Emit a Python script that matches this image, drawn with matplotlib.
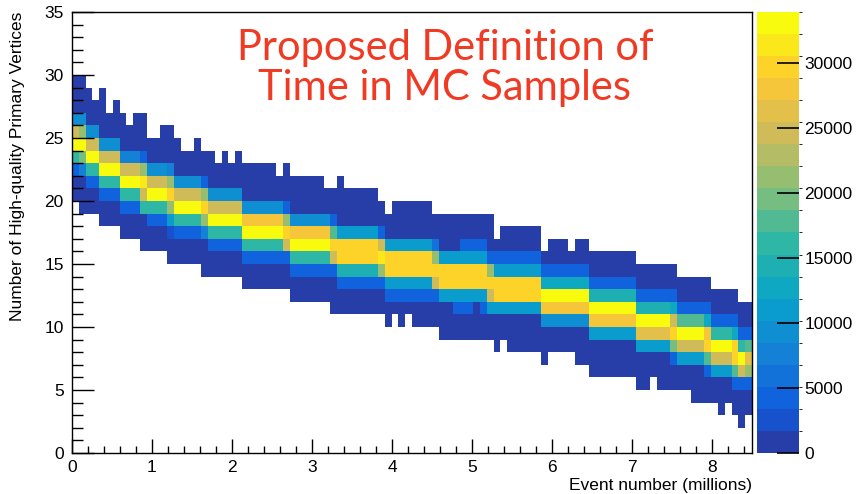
import numpy as np
import matplotlib.pyplot as plt
from matplotlib.colors import LinearSegmentedColormap, ListedColormap, BoundaryNorm
from matplotlib.ticker import MultipleLocator

plt.rcParams['font.family'] = ['Liberation Sans', 'DejaVu Sans']

# histogram binning: 100 bins in event number (millions), unit bins in vertices
n_xbins = 100
x_max = 8.5
n_ybins = 35

# highest / lowest filled vertex bin for every event-number bin
top_row = [29, 29, 28, 27, 28, 26, 27, 26, 25, 26,
           26, 24, 24, 25, 25, 24, 23, 23, 24, 23,
           23, 22, 23, 22, 23, 22, 22, 22, 22, 22,
           21, 22, 21, 21, 21, 21, 21, 20, 20, 21,
           20, 20, 20, 20, 20, 19, 18, 19, 19, 19,
           19, 19, 19, 18, 18, 18, 18, 18, 18, 18,
           18, 18, 16, 17, 17, 17, 17, 17, 17, 15,
           16, 16, 16, 15, 16, 16, 15, 15, 15, 15,
           15, 15, 15, 14, 14, 14, 14, 14, 14, 13,
           13, 13, 13, 13, 12, 12, 12, 12, 11, 11]
bottom_row = [20, 19, 19, 19, 18, 18, 18, 17, 17, 17,
              16, 16, 16, 16, 15, 15, 15, 15, 15, 14,
              14, 14, 14, 14, 14, 13, 13, 13, 13, 13,
              13, 13, 12, 12, 12, 12, 12, 12, 11, 11,
              11, 11, 11, 11, 11, 11, 10, 11, 10, 11,
              10, 10, 10, 10, 9, 9, 9, 9, 9, 9,
              9, 9, 8, 9, 8, 8, 8, 8, 8, 7,
              8, 8, 8, 8, 7, 7, 6, 6, 6, 6,
              6, 6, 6, 5, 5, 6, 5, 5, 5, 5,
              5, 4, 4, 4, 4, 3, 4, 3, 2, 3]

# sparse tail entries (thousands)
tail_count = 0.6

# core of the distribution: (first bin, last bin, lowest row, entries in thousands upward)
core_profiles = [
    (0, 0, 22, [4.5, 16.5, 33.0, 25.0, 10.0]),
    (1, 1, 22, [7.0, 19.0, 33.9, 21.0, 10.0]),
    (2, 3, 21, [4.5, 16.0, 33.0, 25.0, 10.0]),
    (4, 6, 20, [4.5, 16.0, 33.0, 25.0, 10.0]),
    (7, 9, 19, [4.5, 16.0, 33.0, 25.0, 8.0]),
    (10, 10, 19, [16.0, 25.0, 31.0, 21.0, 5.0]),
    (11, 13, 18, [4.5, 16.0, 33.0, 25.0, 10.0]),
    (14, 14, 17, [2.5, 11.0, 21.0, 30.0, 21.0, 7.0]),
    (15, 18, 17, [4.5, 16.0, 33.0, 25.0, 10.0]),
    (19, 19, 17, [8.0, 21.0, 30.0, 21.0, 5.0]),
    (20, 24, 16, [4.5, 16.0, 33.0, 25.0, 10.0]),
    (25, 30, 15, [4.5, 16.0, 33.0, 28.5, 10.0]),
    (31, 31, 15, [5.0, 24.0, 30.0, 21.0, 5.0]),
    (32, 37, 14, [4.5, 16.0, 33.0, 28.5, 10.0]),
    (38, 38, 14, [5.0, 25.0, 30.0, 17.0, 5.0]),
    (39, 44, 13, [4.5, 14.0, 30.5, 29.5, 11.0]),
    (45, 45, 13, [5.0, 21.0, 31.0, 25.0, 5.0]),
    (46, 52, 12, [4.5, 11.0, 29.5, 29.5, 11.0]),
    (53, 53, 12, [5.0, 25.0, 30.0, 21.0, 6.0]),
    (54, 55, 12, [11.0, 29.5, 29.5, 11.0]),
    (56, 56, 11, [4.5, 11.0, 29.5, 29.5, 11.0]),
    (57, 58, 11, [4.5, 11.0, 29.5, 29.5, 11.0, 4.5]),
    (59, 59, 12, [11.0, 29.5, 29.5, 11.0, 4.5]),
    (60, 60, 11, [4.5, 11.0, 29.5, 29.5, 11.0, 4.5]),
    (61, 61, 11, [11.0, 25.0, 30.0, 21.0, 5.0]),
    (62, 68, 11, [11.0, 29.5, 29.5, 11.0, 4.5]),
    (69, 75, 10, [10.0, 28.5, 33.0, 13.0, 4.5]),
    (76, 82, 9, [11.0, 28.5, 33.0, 14.0, 4.5]),
    (83, 87, 8, [11.0, 27.0, 33.0, 15.0, 4.5]),
    (88, 88, 7, [5.0, 20.0, 30.0, 25.0, 12.0, 4.0]),
    (89, 92, 7, [11.0, 25.0, 33.0, 17.0, 4.5]),
    (93, 93, 6, [5.0, 18.0, 30.0, 28.0, 12.0, 4.0]),
    (94, 96, 6, [11.0, 25.0, 33.5, 16.0, 4.5]),
    (97, 97, 5, [5.0, 17.0, 30.0, 29.0, 13.0, 4.0]),
    (98, 98, 5, [4.5, 25.0, 33.9, 16.0, 4.5]),
    (99, 99, 5, [4.5, 21.0, 26.0, 17.0, 4.5]),
]

counts = np.zeros((n_ybins, n_xbins))
for i in range(n_xbins):
    counts[bottom_row[i]:top_row[i] + 1, i] = tail_count
for first, last, row0, values in core_profiles:
    for k, v in enumerate(values):
        counts[row0 + k, first:last + 1] = v
counts *= 1000.0
z_max = counts.max()

# ROOT kBird palette, 20 contours
stops = [0.0, 0.125, 0.25, 0.375, 0.5, 0.625, 0.75, 0.875, 1.0]
red = [0.2082, 0.0592, 0.0780, 0.0232, 0.1802, 0.5301, 0.8186, 0.9956, 0.9764]
green = [0.1664, 0.3599, 0.5041, 0.6419, 0.7178, 0.7492, 0.7328, 0.7862, 0.9832]
blue = [0.5293, 0.8684, 0.8385, 0.7914, 0.6425, 0.4662, 0.3499, 0.1968, 0.0539]
bird = LinearSegmentedColormap.from_list('bird', list(zip(stops, zip(red, green, blue))))
n_levels = 20
cmap = ListedColormap([bird((k + 0.99) / n_levels) for k in range(n_levels)])
levels = np.linspace(0, z_max, n_levels + 1)
norm = BoundaryNorm(levels, n_levels, clip=True)

W, H = 868, 494
fig = plt.figure(figsize=(W / 100, H / 100), dpi=100)
ax = fig.add_axes([72 / W, 41 / H, 680 / W, 441 / H])

x_edges = np.linspace(0, x_max, n_xbins + 1)
y_edges = np.arange(n_ybins + 1)
mesh = ax.pcolormesh(x_edges, y_edges, np.ma.masked_equal(counts, 0),
                     cmap=cmap, norm=norm, zorder=1)

ax.set_xlim(0, x_max)
ax.set_ylim(0, n_ybins)
ax.xaxis.set_major_locator(MultipleLocator(1))
ax.xaxis.set_minor_locator(MultipleLocator(0.2))
ax.yaxis.set_major_locator(MultipleLocator(5))
ax.yaxis.set_minor_locator(MultipleLocator(1))
ax.tick_params(axis='x', which='major', direction='in', length=10, width=1,
               labelsize=12.5, pad=5)
ax.tick_params(axis='x', which='minor', direction='in', length=5, width=1)
ax.tick_params(axis='y', which='major', direction='in', length=16, width=1,
               labelsize=12.5, pad=6)
ax.tick_params(axis='y', which='minor', direction='in', length=8, width=1)
ax.set_axisbelow(False)
for s in ax.spines.values():
    s.set_linewidth(1)
    s.set_zorder(3)

# palette axis
cax = fig.add_axes([757 / W, 41 / H, 42 / W, 441 / H])
cbar = fig.colorbar(mesh, cax=cax)
cbar.set_ticks(np.arange(0, 30001, 5000))
cbar.outline.set_visible(False)
cax.tick_params(direction='in', length=16, width=1.2, labelsize=12.5, pad=4)

fig.text(18 / W, 1 - 12 / H, 'Number of High-quality Primary Vertices',
         rotation=90, ha='center', va='top', fontsize=12.5)
fig.text(752 / W, 1 - 485 / H, 'Event number (millions)',
         ha='right', va='center', fontsize=12.5)

title_color = '#f03a23'
fig.text(445 / W, 1 - 48 / H, 'Proposed Definition of', ha='center', va='center',
         fontsize=30, color=title_color, family='Lato')
fig.text(445 / W, 1 - 88 / H, 'Time in MC Samples', ha='center', va='center',
         fontsize=30, color=title_color, family='Lato')

fig.savefig('out.png', dpi=100)
